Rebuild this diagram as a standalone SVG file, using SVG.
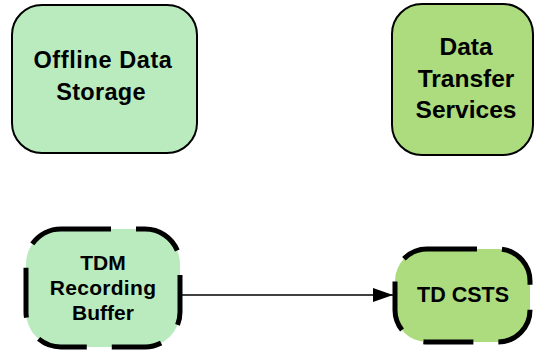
<svg xmlns="http://www.w3.org/2000/svg" width="535" height="351" viewBox="0 0 535 351">
<defs>
<style>
.t{font-family:"Liberation Sans",Arial,sans-serif;font-weight:bold;fill:#000;text-anchor:middle}
.solid{stroke:#000;stroke-width:2}
.dash{stroke:#000;stroke-width:5;stroke-dasharray:50 25}
.lg{fill:#b9ebbf}
.dg{fill:#acdc7e}
</style>
<marker id="ah" markerWidth="20" markerHeight="14" refX="20" refY="7" orient="auto" markerUnits="userSpaceOnUse">
<path d="M0,0 L20,7 L0,14 Z" fill="#000"/>
</marker>
</defs>
<g id="connectors">
<line x1="180" y1="295" x2="393" y2="295" stroke="#000" stroke-width="1.5" marker-end="url(#ah)"/>
</g>
<g id="offline">
<rect class="lg solid" x="12" y="5" width="185" height="148" rx="30" ry="30"/>
<text class="t" x="103" y="68" font-size="23.5" letter-spacing="0.6">Offline Data</text>
<text class="t" x="101" y="100" font-size="23.5" letter-spacing="0.3">Storage</text>
</g>
<g id="dts">
<rect class="dg solid" x="392" y="4" width="141" height="151" rx="30" ry="30"/>
<text class="t" x="466" y="55" font-size="24.5">Data</text>
<text class="t" x="466" y="87" font-size="24.5">Transfer</text>
<text class="t" x="466" y="118" font-size="24.5">Services</text>
</g>
<g id="tdm">
<rect class="lg dash" x="26" y="229" width="154" height="118" rx="35" ry="35"/>
<text class="t" x="103" y="270" font-size="21">TDM</text>
<text class="t" x="103" y="295" font-size="21" letter-spacing="0.3">Recording</text>
<text class="t" x="103" y="320" font-size="21">Buffer</text>
</g>
<g id="tdcsts">
<rect class="dg dash" x="395" y="249" width="135" height="93" rx="32" ry="32"/>
<text class="t" x="463" y="302" font-size="21.5">TD CSTS</text>
</g>
</svg>
